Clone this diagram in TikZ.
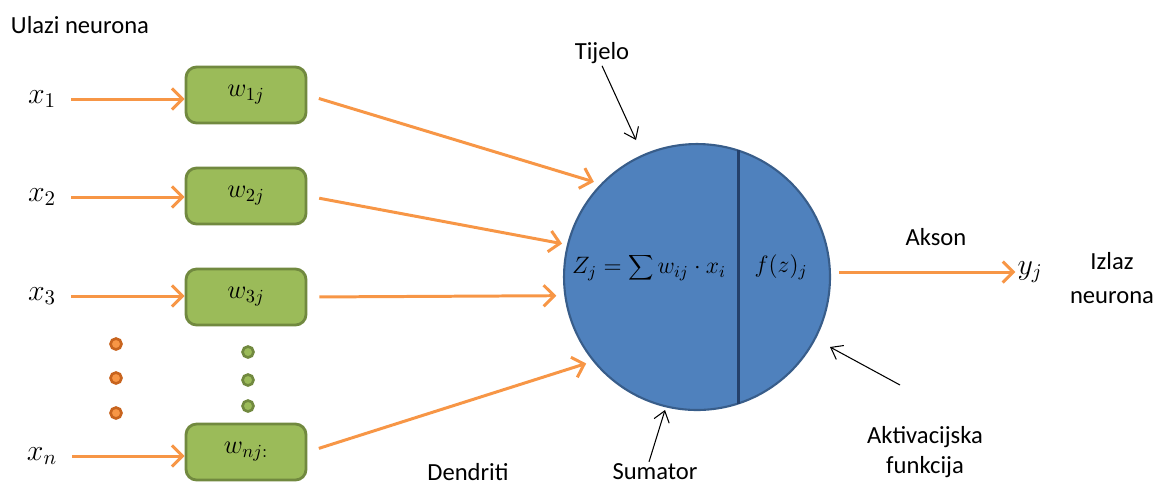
\RequirePackage{fix-cm}
\documentclass[tikz,border=0pt]{standalone}
\usepackage{fontspec}
\setmainfont{Carlito}
\usetikzlibrary{arrows.meta, positioning}

\definecolor{arrorange}{HTML}{F79646}
\definecolor{dotorange}{HTML}{C8641E}
\definecolor{boxgreen}{HTML}{9BBB59}
\definecolor{boxborder}{HTML}{71893F}
\definecolor{bodyblue}{HTML}{4F81BD}
\definecolor{bodyborder}{HTML}{385D8A}
\definecolor{splitblue}{HTML}{24406A}

\begin{document}
\begin{tikzpicture}[
  x=0.02cm, y=-0.02cm,
  wbox/.style={rectangle, rounded corners=6pt, draw=boxborder, line width=1.6pt,
               fill=boxgreen, minimum width=2.4cm, minimum height=1.12cm,
               font=\fontsize{15}{18}\selectfont},
  body/.style={circle, draw=bodyborder, line width=1.2pt, fill=bodyblue,
               minimum size=5.32cm, inner sep=0pt},
  inlbl/.style={font=\fontsize{17}{20}\selectfont, inner sep=1pt},
  mlbl/.style={font=\fontsize{13.5}{16}\selectfont, inner sep=1pt},
  lbl/.style={font=\fontsize{14}{16}\selectfont, align=center, inner sep=1pt},
  oarr/.style={-{Straight Barb[length=6pt,width=12pt]}, line width=1.7pt,
               draw=arrorange},
  karr/.style={-{Straight Barb[length=6pt,width=9pt]}, line width=0.6pt},
  odot/.style={circle, draw=dotorange, line width=1.5pt, fill=arrorange,
               minimum size=0.22cm, inner sep=0pt},
  gdot/.style={circle, draw=boxborder, line width=1.5pt, fill=boxgreen,
               minimum size=0.22cm, inner sep=0pt}
]
\useasboundingbox (0,0) rectangle (1158,485);

% inputs and weights
\node[lbl] (ulazi) at (80,25) {Ulazi neurona};
\node[inlbl] (x1) at (42,99) {$x_1$};
\node[inlbl] (x2) at (42,197) {$x_2$};
\node[inlbl] (x3) at (42,296) {$x_3$};
\node[inlbl] (xn) at (42,456) {$x_n$};

\node[wbox] (w1) at (246,95)  {$w_{1j}$};
\node[wbox] (w2) at (246,196) {$w_{2j}$};
\node[wbox] (w3) at (246,297) {$w_{3j}$};
\node[wbox] (wn) at (246,452) {$w_{nj:}$};

\foreach \y [count=\i] in {344,378,413} \node[odot] (od\i) at (116,\y) {};
\foreach \y [count=\i] in {352,380,406} \node[gdot] (gd\i) at (248,\y) {};

\draw[oarr, shorten <=0.26cm] (x1.east) -- (x1.east -| w1.west);
\draw[oarr, shorten <=0.26cm] (x2.east) -- (x2.east -| w2.west);
\draw[oarr, shorten <=0.26cm] (x3.east) -- (x3.east -| w3.west);
\draw[oarr, shorten <=0.26cm] (xn.east) -- (xn.east -| wn.west);

% neuron body
\node[body] (tijelo) at (697,277) {};
\draw[splitblue, line width=1.6pt] (tijelo.72.5) -- (tijelo.-72.5);
\node[mlbl] (suma) at (649,268) {$Z_j = \displaystyle\sum w_{ij}\cdot x_i$};
\node[mlbl] (fz) at (781,267) {$f(z)_j$};

\draw[oarr, shorten <=0.24cm, shorten >=0.14cm] (w1.east) -- (tijelo.136);
\draw[oarr, shorten <=0.24cm, shorten >=0.1cm] (w2.east) -- (tijelo.166);
\draw[oarr, shorten <=0.24cm, shorten >=0.16cm] (w3.east) -- (tijelo.188);
\draw[oarr, shorten <=0.24cm, shorten >=0.14cm] (wn.east) -- (tijelo.219);

% output
\node[inlbl] (yj) at (1030,272) {$y_j$};
\draw[oarr, shorten <=0.16cm] (tijelo.east |- yj.west) -- (yj.west);
\node[lbl] (akson) at (936,237) {Akson};
\node[lbl, font=\fontsize{14}{19.5}\selectfont] (izlaz) at (1112,278) {Izlaz\\neurona};

% annotations
\node[lbl] (lTijelo) at (602,53) {Tijelo};
\coordinate (pTijelo) at (636,140);
\draw[karr] (lTijelo.south) -- (pTijelo);

\node[lbl] (lSum) at (655,472) {Sumator};
\coordinate (pSum) at (665,410);
\draw[karr] (lSum.north) ++(-6,0) coordinate (tSum) (tSum) -- (pSum);

\node[lbl, font=\fontsize{14}{17}\selectfont] (lAkt) at (925,452) {Aktivacijska\\funkcija};
\coordinate (tAkt) at (900,385);
\coordinate (pAkt) at (830,347);
\draw[karr] (tAkt) -- (pAkt);

\node[lbl] (dendriti) at (468,472) {Dendriti};

\end{tikzpicture}
\end{document}
